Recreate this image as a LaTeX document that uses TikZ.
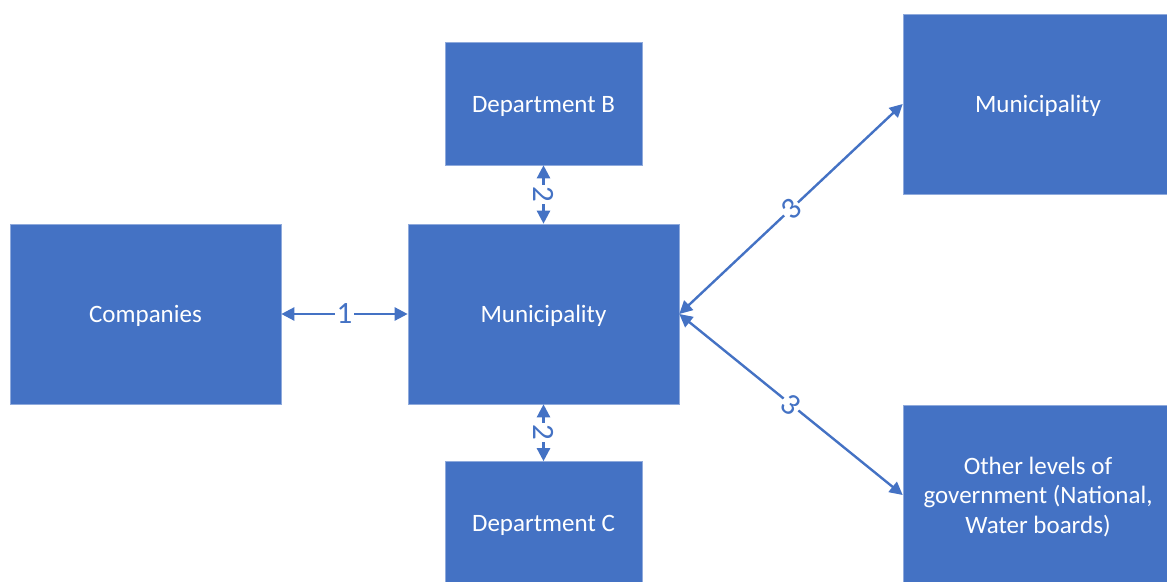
\documentclass[tikz,border=0pt]{standalone}
\usepackage{fontspec}
\setmainfont{Carlito}
\usetikzlibrary{arrows.meta}
\definecolor{boxblue}{HTML}{4472C4}
\definecolor{edgeblue}{HTML}{8FAADC}
% box text sits slightly below the geometric centre of its box:
% extra declared height above the text pushes it down
\newcommand{\boxtext}[1]{\raisebox{0pt}[\dimexpr\height+6pt\relax][\depth]{\begin{tabular}{@{}c@{}}#1\end{tabular}}}
\tikzset{
  unit/.style={rectangle, fill=boxblue, draw=edgeblue, line width=0.6pt,
    text=white, inner sep=0pt,
    font=\fontsize{25}{29.5}\selectfont},
  link/.style={draw=boxblue, line width=2.4pt,
    {Triangle[length=13pt,width=13pt]}-{Triangle[length=13pt,width=13pt]}},
  tag/.style={fill=white, text=boxblue, inner sep=1.5pt,
    font=\fontsize{31}{31}\selectfont}
}
\begin{document}
\begin{tikzpicture}[x=1pt,y=-1pt]
  \useasboundingbox (0,0) rectangle (1167,581);

  % boxes
  \node[unit, minimum width=271pt, minimum height=180pt] (comp) at (145.5,314) {\boxtext{Companies}};
  \node[unit, minimum width=271pt, minimum height=180pt] (mun)  at (543.5,314) {\boxtext{Municipality}};
  \node[unit, minimum width=197pt, minimum height=123pt] (depB) at (543.5,103.5) {\boxtext{Department B}};
  \node[unit, minimum width=197pt, minimum height=123pt] (depC) at (543.5,523) {\boxtext{Department C}};
  \node[unit, minimum width=270pt, minimum height=180pt] (munR) at (1038,104) {\boxtext{Municipality}};
  \node[unit, minimum width=270pt, minimum height=180pt] (other) at (1038,495)
    {\boxtext{Other levels of\\government (National,\\Water boards)}};

  % connectors
  \draw[link] (comp.east) -- node[tag] {1} (mun.west);
  \draw[link] (depB.south) -- node[tag, rotate=-90] {2} (mun.north);
  \draw[link] (mun.south) -- node[tag, rotate=-90] {2} (depC.north);
  \draw[link] (mun.east) -- node[tag, rotate=43] {3} (munR.west);
  \draw[link] (mun.east) -- node[tag, rotate=-39] {3} (other.west);
\end{tikzpicture}
\end{document}
